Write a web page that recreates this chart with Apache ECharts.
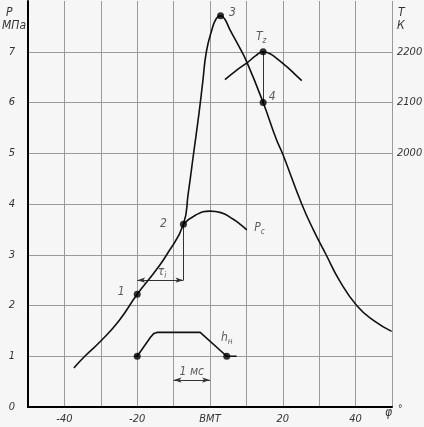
<!DOCTYPE html>
<html><head><meta charset="utf-8">
<script src="https://cdn.jsdelivr.net/npm/echarts@6/dist/echarts.min.js"></script>
<style>html,body{margin:0;padding:0;background:#f6f6f6}#c{width:424px;height:427px}</style>
</head><body><div id="c"></div>
<script>
// Main pressure curve P (MPa) vs crank angle φ (deg)
const phiMain = [-37.4,-34.4,-30,-25,-20,-15,-11.9,-7.3,-6.0,-4.5,-3.0,-2.0,-1.0,0.5,1.7,2.9,4.0,5.5,8,10.1,14.6,18.3,19.9,25.2,28.4,31.9,35.5,40.3,45,49.9];
const pMain   = [0.77,1.0,1.3,1.7,2.22,2.68,3.0,3.6,4.2,5.0,5.8,6.4,7.0,7.43,7.65,7.71,7.65,7.43,7.1,6.8,6.0,5.26,5.0,4.0,3.49,3.0,2.5,2.0,1.7,1.49];
// Compression-only curve Pc
const phiPc = [-7.3,-4,0,3,6.4,8.5,10.1];
const pPc   = [3.6,3.78,3.86,3.83,3.70,3.59,3.49];
// Temperature curve T (K)
const phiT = [4.1,7,10.5,12.5,14.6,16.5,18.3,21,23,25.2];
const tT   = [2145,2162,2180,2192,2200,2196,2187,2171,2158,2143];
// Needle lift h (drawn on P scale)
const phiH = [-20.7,-20,-16.3,-15.4,-14.6,-2.7,4.6,7.3];
const hH   = [1.0,1.0,1.38,1.45,1.47,1.47,1.0,1.0];
// Key points
const phiPts = [-20,-7.3,2.9,14.6];
const pPts   = [2.22,3.6,7.71,6.0];
const ptNames = ['1','2','3','4'];
const phiTz = [14.6], tTz = [2200];
const phiHpts = [-20,4.6], hPts = [1.0,1.0];
// Dimension lines
const tauSpan = [-20,-7.3], tauLevel = 2.5;
const msSpan = [-10,0], msLevel = 0.53;
// Ticks
const xTickValues = [-40,-20,0,20,40];
const xTickLabels = ['-40','-20','ВМТ','20','40'];
const yTickValues = [0,1,2,3,4,5,6,7];
const yTickLabels = ['0','1','2','3','4','5','6','7'];
const tTickValues = [2000,2100,2200];
const tTickLabels = ['2000','2100','2200'];

const zip = (a,b)=>a.map((v,i)=>[v,b[i]]);
const FONT = '"DejaVu Sans Condensed", "Liberation Sans Narrow", "DejaVu Sans", sans-serif';
const txt = {fontFamily:FONT, fontStyle:'italic', fontSize:11, color:'#333'};
const rich = {
  a:{fontFamily:FONT,fontStyle:'italic',fontSize:12,color:'#333'},
  s:{fontFamily:FONT,fontStyle:'italic',fontSize:8,color:'#333',padding:[8,0,0,0]}
};
const gfont = sz => 'italic '+sz+'px '+FONT;

const chart = echarts.init(document.getElementById('c'), null, {renderer:'canvas'});
chart.setOption({
  animation:false,
  backgroundColor:'#f6f6f6',
  grid:{left:28,right:32,top:1,bottom:20,containLabel:false,outerBoundsMode:'none'},
  xAxis:{type:'value',min:-50,max:50,interval:10,
    axisLine:{show:true,lineStyle:{color:'#000',width:2}},
    axisTick:{show:false},
    axisLabel:Object.assign({margin:7,showMinLabel:true,showMaxLabel:true,
      formatter:v=>{const i=xTickValues.indexOf(v);return i>=0?xTickLabels[i]:'';}},txt),
    splitLine:{show:true,showMinLine:false,showMaxLine:true,lineStyle:{color:'#9a9a9a',width:1}}
  },
  yAxis:[
    {type:'value',min:0,max:8,interval:1,position:'left',
      axisLine:{show:true,onZero:false,lineStyle:{color:'#000',width:2}},
      axisTick:{show:false},
      axisLabel:Object.assign({margin:13,
        formatter:v=>{const i=yTickValues.indexOf(v);return i>=0?yTickLabels[i]:'';}},txt),
      splitLine:{show:true,showMinLine:false,showMaxLine:false,lineStyle:{color:'#9a9a9a',width:1}}
    },
    {type:'value',min:1500,max:2300,interval:100,position:'right',
      axisLine:{show:false},axisTick:{show:false},splitLine:{show:false},
      axisLabel:Object.assign({margin:5,
        formatter:v=>{const i=tTickValues.indexOf(v);return i>=0?tTickLabels[i]:'';}},txt)
    }
  ],
  series:[
    {type:'line',data:zip(phiMain,pMain),showSymbol:false,smooth:0.5,
      lineStyle:{color:'#111',width:1.6},z:5,
      markLine:{silent:true,symbol:['none','none'],label:{show:false},
        lineStyle:{color:'#777',width:1,type:'solid'},
        data:[
          [{coord:[phiPts[1],pPts[1]]},{coord:[phiPts[1],tauLevel]}],
          [{coord:[phiTz[0],pPts[3]+1]},{coord:[phiPts[3],pPts[3]]}],
          [{coord:[tauSpan[0],tauLevel],symbol:'arrow',symbolSize:[4,8]},{coord:[tauSpan[1],tauLevel],symbol:'arrow',symbolSize:[4,8]}],
          [{coord:[msSpan[0],msLevel],symbol:'arrow',symbolSize:[4,8]},{coord:[msSpan[1],msLevel],symbol:'arrow',symbolSize:[4,8]}]
        ].map(d=>d.map(p=>Object.assign({lineStyle:{color:'#333'}},p)))
      }
    },
    {type:'line',data:zip(phiPc,pPc),showSymbol:false,smooth:0.5,lineStyle:{color:'#111',width:1.6},z:5},
    {type:'line',yAxisIndex:1,data:zip(phiT,tT),showSymbol:false,smooth:0.5,lineStyle:{color:'#111',width:1.6},z:5},
    {type:'line',data:zip(phiH,hH),showSymbol:false,smooth:false,lineStyle:{color:'#111',width:1.6},z:5},
    {type:'scatter',symbol:'circle',symbolSize:7,itemStyle:{color:'#000'},z:6,
      data:phiPts.map((x,i)=>({value:[x,pPts[i]],label:{show:true,position:'inside',formatter:ptNames[i],
        offset:[[-16,-2],[-20,0],[12,-3],[9,-6]][i]}})),
      label:Object.assign({},txt,{fontSize:12})
    },
    {type:'scatter',yAxisIndex:1,symbol:'circle',symbolSize:7,itemStyle:{color:'#000'},z:6,
      data:phiTz.map((x,i)=>({value:[x,tTz[i]]})),
      label:{show:true,position:'inside',offset:[-2,-15],formatter:'{a|T}{s|z}',rich:rich}
    },
    {type:'scatter',symbol:'circle',symbolSize:7,itemStyle:{color:'#000'},z:6,data:zip(phiHpts,hPts)},
    {type:'scatter',symbolSize:0,z:7,
      label:{show:true,position:'inside',rich:rich},
      data:[
        {value:[13.6,3.53],label:{formatter:'{a|P}{s|c}'}},
        {value:[4.6,1.36],label:{formatter:'{a|h}{s|н}'}},
        {value:[-13.2,2.66],label:{formatter:'{a|τ}{s|i}'}},
        {value:[-5.0,0.70],label:{formatter:'{a|1 мс}'}}
      ]
    }
  ],
  graphic:[
    {type:'text',left:6,top:7,style:{text:'P',fill:'#333',font:gfont(12)}},
    {type:'text',left:2,top:20,style:{text:'МПа',fill:'#333',font:gfont(12)}},
    {type:'text',left:398,top:7,style:{text:'T',fill:'#333',font:gfont(12)}},
    {type:'text',left:397,top:20,style:{text:'К',fill:'#333',font:gfont(12)}},
    {type:'text',left:385,top:407,style:{text:'φ',fill:'#333',font:gfont(12)}},
    {type:'text',left:398,top:404,style:{text:'°',fill:'#333',font:gfont(10)}}
  ]
});
</script></body></html>
